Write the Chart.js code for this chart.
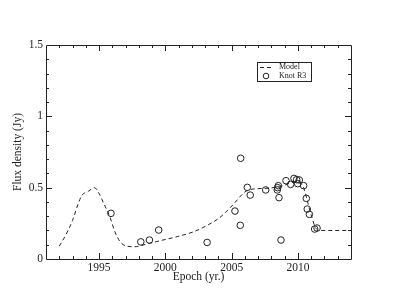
<!DOCTYPE html>
<html>
<head>
<meta charset="utf-8">
<script src="https://cdn.jsdelivr.net/npm/chart.js@4.4.1/dist/chart.umd.min.js"></script>
<style>
html,body{margin:0;padding:0;background:#fff;}
#wrap{position:relative;width:395px;height:305px;}
</style>
</head>
<body>
<div id="wrap"><canvas id="c" width="395" height="305"></canvas></div>
<script>
// ---- data ----
const knotEpoch = [1995.9, 1998.15, 1998.8, 1999.5, 2003.15, 2005.25, 2005.65, 2005.68, 2006.18, 2006.4,
  2007.57, 2008.44, 2008.47, 2008.52, 2008.57, 2008.72, 2009.1, 2009.45, 2009.7, 2009.9,
  2009.98, 2010.1, 2010.43, 2010.63, 2010.7, 2010.86, 2011.26, 2011.44];
const knotFlux = [0.32, 0.12, 0.133, 0.203, 0.116, 0.336, 0.236, 0.706, 0.502, 0.448,
  0.484, 0.484, 0.50, 0.514, 0.43, 0.133, 0.549, 0.523, 0.565, 0.556,
  0.528, 0.554, 0.514, 0.425, 0.35, 0.313, 0.21, 0.217];
const modelEpoch = [1992.0, 1992.5, 1993.0, 1993.4, 1993.7, 1994.2, 1994.65, 1995.0, 1995.4, 1995.8,
  1996.2, 1996.6, 1997.1, 1997.7, 1998.6, 1999.6, 2000.9, 2002.1, 2003.2, 2004.1,
  2005.1, 2006.0, 2006.6, 2007.6, 2008.6, 2009.9, 2010.4, 2010.9, 2011.3, 2011.6, 2014.0];
const modelFlux = [0.09, 0.17, 0.27, 0.38, 0.445, 0.475, 0.50, 0.46, 0.38, 0.30,
  0.19, 0.12, 0.09, 0.086, 0.105, 0.128, 0.157, 0.19, 0.238, 0.29,
  0.38, 0.47, 0.49, 0.495, 0.507, 0.54, 0.505, 0.34, 0.225, 0.2, 0.2];
const xTickValues = [1995, 2000, 2005, 2010];
const xTickLabels = ['1995', '2000', '2005', '2010'];
const yTickValues = [0, 0.5, 1, 1.5];
const yTickLabels = ['0', '0.5', '1', '1.5'];
const xMinorStep = 1;
const yMinorStep = 0.1;
const seriesLabels = ['Model', 'Knot R3'];
const xTitle = 'Epoch (yr.)';
const yTitle = 'Flux density (Jy)';

const FONT = 'Liberation Serif, Times New Roman, serif';
const INK = '#222';

const framePlugin = {
  id: 'frameTicks',
  afterDatasetsDraw(chart) {
    const {ctx, chartArea: a, scales} = chart;
    const xs = scales.x, ys = scales.y;
    ctx.save();
    ctx.strokeStyle = INK;
    ctx.lineWidth = 1;
    ctx.beginPath();
    ctx.rect(Math.round(a.left) + 0.5, Math.round(a.top) + 0.5,
      Math.round(a.right - a.left), Math.round(a.bottom - a.top));
    ctx.stroke();
    ctx.beginPath();
    const xmin = xs.min, xmax = xs.max;
    for (let v = Math.ceil(xmin); v <= xmax; v += xMinorStep) {
      if (v === xmin || v === xmax) continue;
      const major = xTickValues.includes(v);
      const L = major ? 6 : 3;
      const px = Math.round(xs.getPixelForValue(v)) + 0.5;
      ctx.moveTo(px, a.bottom); ctx.lineTo(px, a.bottom - L);
      ctx.moveTo(px, a.top); ctx.lineTo(px, a.top + L);
    }
    const n = Math.round((ys.max - ys.min) / yMinorStep);
    for (let i = 1; i < n; i++) {
      const v = ys.min + i * yMinorStep;
      const major = yTickValues.some(t => Math.abs(t - v) < 1e-6);
      const L = major ? 6 : 3;
      const py = Math.round(ys.getPixelForValue(v)) + 0.5;
      ctx.moveTo(a.left, py); ctx.lineTo(a.left + L, py);
      ctx.moveTo(a.right, py); ctx.lineTo(a.right - L, py);
    }
    ctx.stroke();

    // legend box
    const bx = a.left + 211, by = a.top + 17, bw = 54, bh = 19;
    ctx.fillStyle = '#fff';
    ctx.fillRect(bx, by, bw, bh);
    ctx.strokeRect(Math.round(bx) + 0.5, Math.round(by) + 0.5, bw, bh);
    ctx.setLineDash([4, 3]);
    ctx.beginPath();
    ctx.moveTo(bx + 3, by + 5.5); ctx.lineTo(bx + 15, by + 5.5);
    ctx.stroke();
    ctx.setLineDash([]);
    ctx.beginPath();
    ctx.arc(bx + 9, by + 14, 2.8, 0, Math.PI * 2);
    ctx.stroke();
    ctx.fillStyle = INK;
    ctx.font = '8px ' + FONT;
    ctx.textBaseline = 'middle';
    ctx.textAlign = 'left';
    ctx.fillText(chart.data.datasets[0].label, bx + 22, by + 5);
    ctx.fillText(chart.data.datasets[1].label, bx + 22, by + 14);
    ctx.restore();
  }
};

new Chart(document.getElementById('c'), {
  type: 'scatter',
  data: {
    datasets: [
      {
        label: seriesLabels[0],
        data: modelEpoch.map((x, i) => ({x, y: modelFlux[i]})),
        showLine: true,
        borderColor: INK,
        borderWidth: 1,
        borderDash: [4, 3],
        pointRadius: 0,
        cubicInterpolationMode: 'monotone',
        fill: false
      },
      {
        label: seriesLabels[1],
        data: knotEpoch.map((x, i) => ({x, y: knotFlux[i]})),
        showLine: false,
        pointStyle: 'circle',
        pointRadius: 3.3,
        borderColor: INK,
        borderWidth: 1,
        backgroundColor: 'rgba(0,0,0,0)'
      }
    ]
  },
  options: {
    responsive: false,
    animation: false,
    devicePixelRatio: 1,
    layout: {padding: {left: 7, right: 44, top: 45, bottom: 17}},
    plugins: {legend: {display: false}, tooltip: {enabled: false}},
    scales: {
      x: {
        type: 'linear', min: 1991, max: 2014,
        grid: {display: false, drawTicks: false},
        border: {display: false},
        afterBuildTicks: s => { s.ticks = xTickValues.map(v => ({value: v})); },
        afterFit: s => { s.height = 29; },
        ticks: {
          padding: 2, color: INK, font: {family: FONT, size: 11.5},
          maxRotation: 0, autoSkip: false,
          callback: v => xTickLabels[xTickValues.indexOf(v)]
        },
        title: {display: true, text: xTitle, color: INK, font: {family: FONT, size: 11.5}}
      },
      y: {
        type: 'linear', min: 0, max: 1.5,
        grid: {display: false, drawTicks: false},
        border: {display: false},
        afterBuildTicks: s => { s.ticks = yTickValues.map(v => ({value: v})); },
        afterFit: s => { s.width = 39; },
        ticks: {
          padding: 3, color: INK, font: {family: FONT, size: 11.5},
          autoSkip: false,
          callback: v => yTickLabels[yTickValues.indexOf(v)]
        },
        title: {display: true, text: yTitle, color: INK, font: {family: FONT, size: 11.5}}
      }
    }
  },
  plugins: [framePlugin]
});
</script>
</body>
</html>
